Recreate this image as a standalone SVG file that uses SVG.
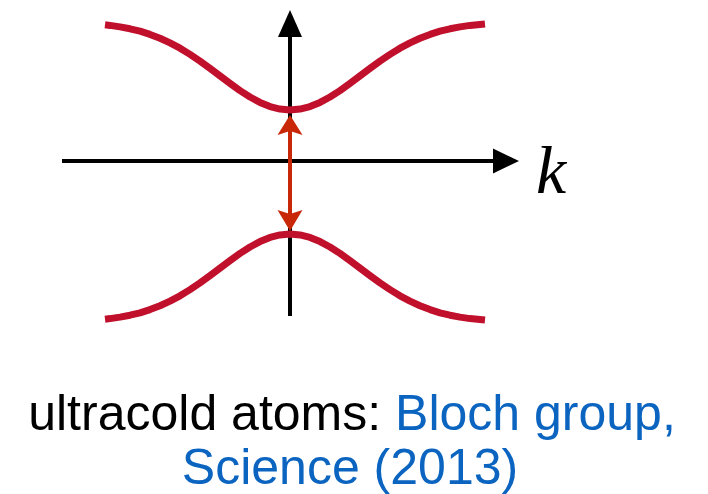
<svg xmlns="http://www.w3.org/2000/svg" width="708" height="494" viewBox="0 0 708 494">
  <style>
    .axis { stroke: #000; stroke-width: 4; fill: none; }
    .band { stroke: #c0102c; stroke-width: 7; fill: none; stroke-linejoin: round; }
    .gap { stroke: #c82808; stroke-width: 4; fill: none; }
    .lbl { font-family: "Liberation Sans", Arial, sans-serif; font-size: 50px; }
    .blue { fill: #0a64c0; }
  </style>
  <rect width="708" height="494" fill="#fff"/>
  <g id="connectors">
    <line class="axis" x1="290" y1="34" x2="290" y2="316"/>
    <polygon points="290,10 302,37 278,37" fill="#000"/>
    <line class="axis" x1="62" y1="161" x2="495" y2="161"/>
    <polygon points="519,161 493,148.5 493,173.5" fill="#000"/>
  </g>
  <g id="upper-band">
    <polyline class="band" points="105,24.8 110,25.4 120,26.9 130,28.8 140,31.2 150,34.4 160,38.3 170,42.9 180,48.2 190,54.4 200,61.2 210,68.4 220,75.9 230,83.4 240,90.6 250,97.0 260,102.4 270,106.6 280,109.1 290,110 300,109.1 310,106.6 320,102.4 330,97.0 340,90.6 350,83.4 360,75.9 370,68.4 380,61.2 390,54.4 400,48.2 410,42.9 420,38.3 430,34.4 440,31.2 450,28.8 460,26.9 470,25.4 480,24.4 485,23.9"/>
  </g>
  <g id="lower-band">
    <polyline class="band" points="105,319.2 110,318.6 120,317.1 130,315.2 140,312.8 150,309.6 160,305.7 170,301.1 180,295.8 190,289.6 200,282.8 210,275.6 220,268.1 230,260.6 240,253.4 250,247.0 260,241.6 270,237.4 280,234.9 290,234 300,234.9 310,237.4 320,241.6 330,247.0 340,253.4 350,260.6 360,268.1 370,275.6 380,282.8 390,289.6 400,295.8 410,301.1 420,305.7 430,309.6 440,312.8 450,315.2 460,317.1 470,318.6 480,319.6 485,320.1"/>
  </g>
  <g id="gap-arrow">
    <line class="gap" x1="290" y1="130" x2="290" y2="216"/>
    <polygon points="290,115 302.5,135 290,131 277.5,135" fill="#c82808"/>
    <polygon points="290,231 302.5,210 290,214 277.5,210" fill="#c82808"/>
  </g>
  <g id="k-label">
    <text x="536" y="193" font-family="Liberation Serif, Times New Roman, serif" font-style="italic" font-size="68">k</text>
  </g>
  <g id="caption">
    <text class="lbl" x="352" y="430" text-anchor="middle">ultracold atoms: <tspan class="blue">Bloch group,</tspan></text>
    <text class="lbl blue" x="350" y="484" text-anchor="middle">Science (2013)</text>
  </g>
</svg>
